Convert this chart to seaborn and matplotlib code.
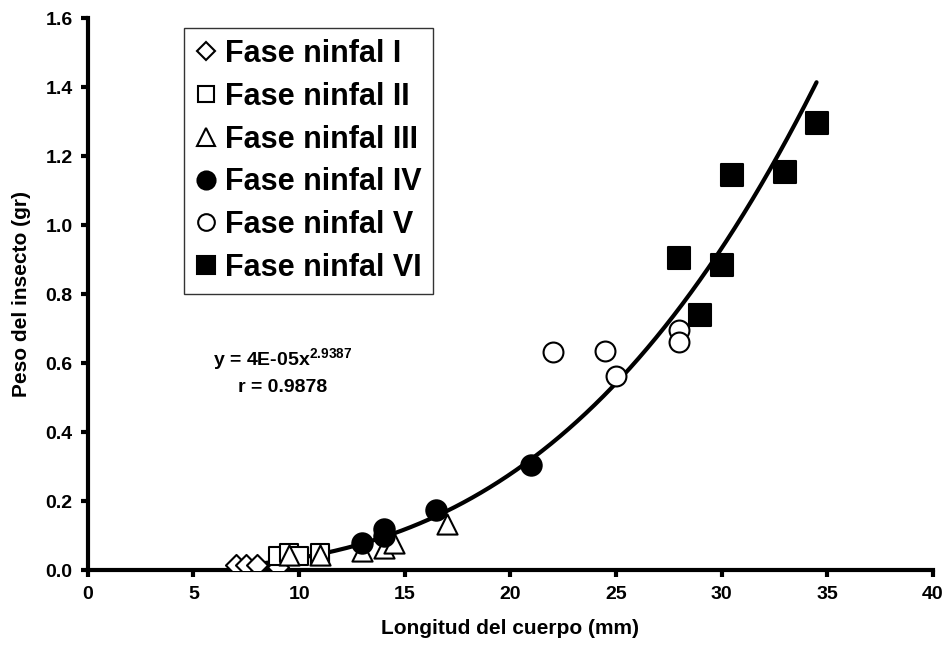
import numpy as np
import pandas as pd
import seaborn as sns
import matplotlib.pyplot as plt
from matplotlib.lines import Line2D

# datos (longitud mm, peso gr)
fase1_x = [7.0, 7.5, 8.0, 9.0]
fase1_y = [0.015, 0.015, 0.015, 0.01]
fase2_x = [9.0, 9.5, 10.0, 11.0, 11.0]
fase2_y = [0.04, 0.05, 0.04, 0.04, 0.05]
fase3_x = [9.5, 11.0, 13.0, 14.0, 14.5, 17.0]
fase3_y = [0.045, 0.045, 0.055, 0.065, 0.08, 0.135]
fase4_x = [13.0, 14.0, 14.0, 16.5, 21.0]
fase4_y = [0.08, 0.12, 0.10, 0.175, 0.305]
fase5_x = [22.0, 24.5, 25.0, 28.0, 28.0]
fase5_y = [0.632, 0.635, 0.563, 0.695, 0.663]
fase6_x = [28.0, 29.0, 30.0, 30.5, 33.0, 34.5]
fase6_y = [0.905, 0.74, 0.885, 1.145, 1.155, 1.295]

fases = ["Fase ninfal I", "Fase ninfal II", "Fase ninfal III",
         "Fase ninfal IV", "Fase ninfal V", "Fase ninfal VI"]
ecuacion = "y = 4E-05x$^{\\mathbf{2.9387}}$"
r_texto = "r = 0.9878"

# estilo de cada fase: marcador, relleno, tamaño en grafico, tamaño en leyenda
estilos = [
    ("D", "white", 115, 9.5),
    ("s", "white", 175, 12),
    ("^", "white", 210, 13),
    ("o", "black", 215, 13),
    ("o", "white", 205, 12),
    ("s", "black", 230, 13),
]

sns.set_style("ticks")
plt.rcParams["font.family"] = ["Liberation Sans", "DejaVu Sans"]
plt.rcParams["font.weight"] = "bold"
plt.rcParams["text.color"] = "black"
plt.rcParams["axes.labelcolor"] = "black"
plt.rcParams["axes.edgecolor"] = "black"
plt.rcParams["xtick.color"] = "black"
plt.rcParams["ytick.color"] = "black"
plt.rcParams["mathtext.fontset"] = "custom"
plt.rcParams["mathtext.rm"] = "Liberation Sans:bold"
plt.rcParams["mathtext.bf"] = "Liberation Sans:bold"

datos = [(fase1_x, fase1_y), (fase2_x, fase2_y), (fase3_x, fase3_y),
         (fase4_x, fase4_y), (fase5_x, fase5_y), (fase6_x, fase6_y)]
df = pd.concat(
    [pd.DataFrame({"x": x, "y": y, "fase": f}) for (x, y), f in zip(datos, fases)],
    ignore_index=True,
)

fig = plt.figure(figsize=(9.45, 6.51), dpi=100)
ax = fig.add_axes([0.093, 0.124, 0.894, 0.848])

# curva de ajuste potencial (log-log)
b, loga = np.polyfit(np.log(df["x"]), np.log(df["y"]), 1)
xs = np.linspace(df["x"].min(), df["x"].max(), 200)
curva = pd.DataFrame({"x": xs, "y": np.exp(loga) * xs ** b})
sns.lineplot(data=curva, x="x", y="y", color="black", linewidth=3, ax=ax,
             zorder=3)

for fase, (m, fc, s, _) in zip(fases, estilos):
    sub = df[df["fase"] == fase]
    sns.scatterplot(data=sub, x="x", y="y", marker=m, s=s, facecolor=fc,
                    edgecolor="black", linewidth=1.5, ax=ax, zorder=4,
                    legend=False)

ax.set_xlim(0, 40)
ax.set_ylim(0, 1.6)
ax.set_xticks(np.arange(0, 41, 5))
ax.set_yticks(np.arange(0, 1.61, 0.2))
ax.set_yticklabels([f"{v:.1f}" for v in np.arange(0, 1.61, 0.2)])
sns.despine(ax=ax)
for sp in ["left", "bottom"]:
    ax.spines[sp].set_linewidth(3)
    ax.spines[sp].set_color("black")
ax.tick_params(axis="both", direction="out", length=5, width=3,
               labelsize=14, pad=6, colors="black")
for lab in ax.get_xticklabels() + ax.get_yticklabels():
    lab.set_fontweight("bold")

ax.set_xlabel("Longitud del cuerpo (mm)", fontsize=15, fontweight="bold",
              labelpad=12)
ax.set_ylabel("Peso del insecto (gr)", fontsize=15, fontweight="bold",
              labelpad=10)

ax.text(9.2, 0.61, ecuacion, fontsize=14, fontweight="bold",
        ha="center", va="center")
ax.text(9.2, 0.53, r_texto, fontsize=14, fontweight="bold",
        ha="center", va="center")

handles = []
for m, fc, s, ms in estilos:
    handles.append(Line2D([], [], linestyle="none", marker=m,
                          markerfacecolor=fc, markeredgecolor="black",
                          markeredgewidth=1.5, markersize=ms))
leg = ax.legend(handles, fases, loc="upper left",
                bbox_to_anchor=(0.114, 0.982), frameon=True, fancybox=False,
                edgecolor="black", prop={"size": 22, "weight": "bold"},
                handlelength=0.7, handletextpad=0.3, labelspacing=0.42,
                borderpad=0.35, borderaxespad=0)
leg.get_frame().set_linewidth(1)
for t in leg.get_texts():
    t.set_color("black")

fig.savefig("out.png", dpi=100)
